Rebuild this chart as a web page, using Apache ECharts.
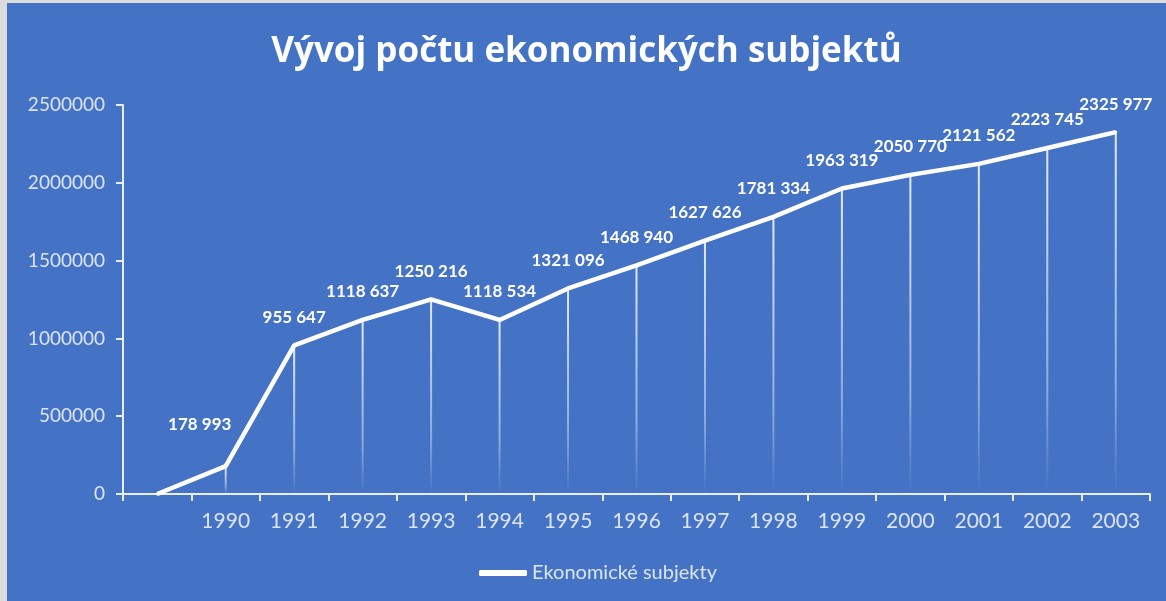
<!DOCTYPE html>
<html>
<head>
<meta charset="utf-8">
<script src="https://cdn.jsdelivr.net/npm/echarts@6/dist/echarts.min.js"></script>
<style>
  html, body { margin: 0; padding: 0; background: #dcdcdc; }
  #chart { position: absolute; left: 7px; top: 3px; width: 1159px; height: 598px; }
</style>
</head>
<body>
<div id="chart"></div>
<script>
const years = ["", "1990", "1991", "1992", "1993", "1994", "1995", "1996", "1997", "1998", "1999", "2000", "2001", "2002", "2003"];
const subjects = [0, 178993, 955647, 1118637, 1250216, 1118534, 1321096, 1468940, 1627626, 1781334, 1963319, 2050770, 2121562, 2223745, 2325977];
const yTicks = [0, 500000, 1000000, 1500000, 2000000, 2500000];

// excel style "# ###": only last three digits split off
const fmt = v => v >= 1000 ? Math.floor(v / 1000) + " " + String(v % 1000).padStart(3, "0") : String(v);
const axisColor = "#e8eef8";
const labelColor = "#dce4f4";

const chart = echarts.init(document.getElementById("chart"));

const lineData = subjects.map((v, i) => {
  if (i === 0) return { value: v, label: { show: false } };
  if (i === 1) return { value: v, label: { offset: [-26, -14] } };
  return v;
});

chart.setOption({
  backgroundColor: "#4472c4",
  animation: false,
  title: {
    text: "Vývoj počtu ekonomických subjektů",
    left: "center",
    top: 27,
    textStyle: { color: "#fff", fontSize: 35, fontWeight: "bold", fontFamily: "Open Sans" }
  },
  legend: {
    data: ["Ekonomické subjekty"],
    bottom: 13,
    left: 467,
    itemWidth: 48,
    itemHeight: 6,
    icon: "roundRect",
    itemGap: 4,
    textStyle: { color: labelColor, fontSize: 20, fontFamily: "Lato" }
  },
  grid: { left: 116, right: 16, top: 102, bottom: 107, containLabel: false },
  xAxis: {
    type: "category",
    data: years,
    boundaryGap: true,
    axisLine: { lineStyle: { color: axisColor, width: 2 } },
    axisTick: { show: true, length: 7, lineStyle: { color: axisColor, width: 2 } },
    axisLabel: { color: labelColor, fontSize: 21, fontFamily: "Lato", margin: 17, interval: 0 }
  },
  yAxis: {
    type: "value",
    min: yTicks[0],
    max: yTicks[yTicks.length - 1],
    interval: yTicks[1] - yTicks[0],
    axisLine: { show: true, lineStyle: { color: axisColor, width: 2 } },
    axisTick: { show: true, length: 7, lineStyle: { color: axisColor, width: 2 } },
    splitLine: { show: false },
    axisLabel: { color: labelColor, fontSize: 19, fontFamily: "Lato", margin: 18, formatter: v => String(v) }
  },
  series: [
    {
      name: "drop",
      type: "bar",
      data: subjects,
      barWidth: 2,
      silent: true,
      itemStyle: {
        color: new echarts.graphic.LinearGradient(0, 0, 0, 1, [
          { offset: 0, color: "rgba(255,255,255,0.85)" },
          { offset: 0.7, color: "rgba(255,255,255,0.4)" },
          { offset: 1, color: "rgba(255,255,255,0)" }
        ])
      }
    },
    {
      name: "Ekonomické subjekty",
      type: "line",
      data: lineData,
      symbol: "circle",
      symbolSize: 3,
      itemStyle: { color: "#fff" },
      lineStyle: { color: "#fff", width: 4.5 },
      label: {
        show: true,
        position: "top",
        distance: 18,
        color: "#fff",
        fontSize: 17,
        fontWeight: "bold",
        fontFamily: "Lato",
        formatter: p => fmt(p.value)
      },
      z: 3
    }
  ]
});
</script>
</body>
</html>
